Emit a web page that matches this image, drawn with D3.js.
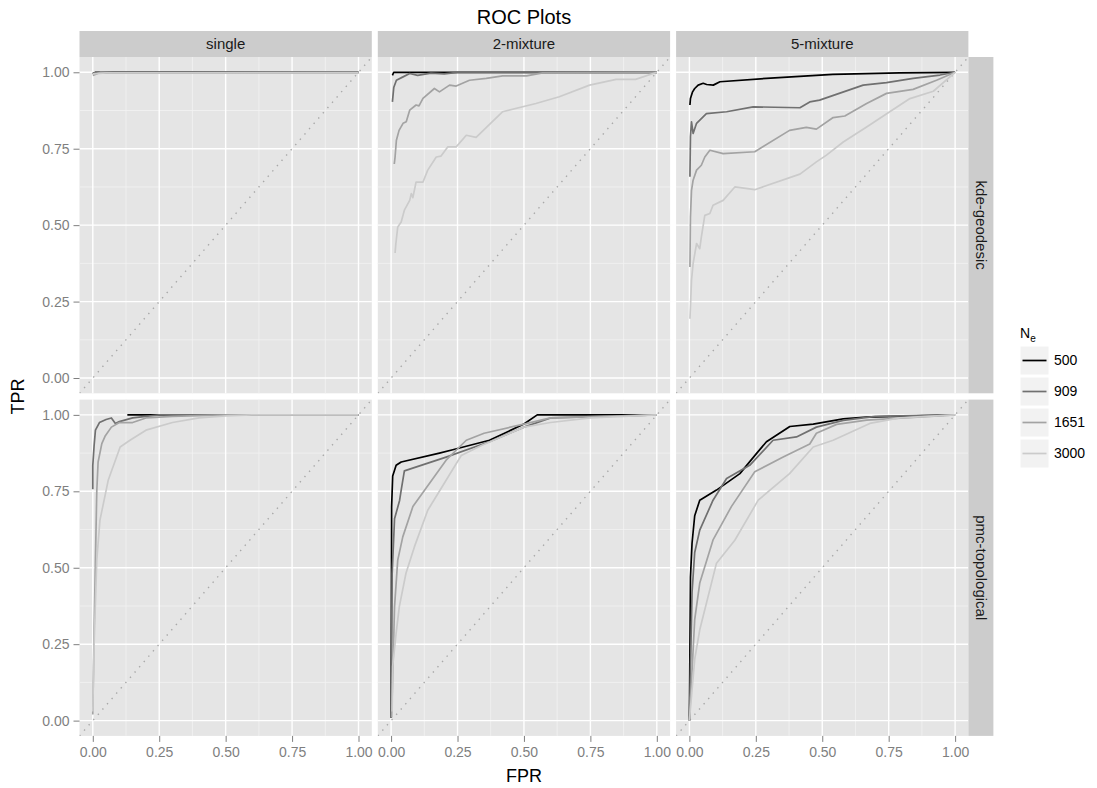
<!DOCTYPE html>
<html>
<head>
<meta charset="utf-8">
<script src="https://cdn.jsdelivr.net/npm/d3@7"></script>
<style>
  body { margin: 0; background: #ffffff; }
  svg { font-family: "Liberation Sans", Arial, sans-serif; }
</style>
</head>
<body>
<svg id="chart" width="1097" height="788"></svg>
<script>
// facets and series
const colLabels = ['single', '2-mixture', '5-mixture'];
const rowLabels = ['kde-geodesic', 'pmc-topological'];
const sizes = ['500', '909', '1651', '3000'];
const sizeColors = ['#000000', '#707070', '#a3a3a3', '#cbcbcb'];
const tickValues = [0, 0.25, 0.5, 0.75, 1];

// [FPR, TPR] points, one array per N_e
const kdeSingle = [
    [[0, 0.995], [0.01, 1], [1, 1]],
    [[0, 0.997], [0.02, 1], [1, 1]],
    [[0, 0.99], [0.03, 1], [0.1, 0.997], [1, 1]],
    [[0, 0.995], [0.05, 0.998], [0.5, 0.998], [1, 0.998]]
];
const kde2Mix = [
    [[0.005, 0.99], [0.01, 1], [1, 1]],
    [[0.005, 0.903], [0.01, 0.95], [0.02, 0.974], [0.045, 0.985], [0.07, 0.996], [0.1, 0.99], [0.15, 0.997], [0.2, 0.995], [0.25, 1], [1, 1]],
    [[0.012, 0.70], [0.015, 0.723], [0.02, 0.778], [0.03, 0.81], [0.045, 0.833], [0.057, 0.838], [0.07, 0.876],
     [0.094, 0.893], [0.105, 0.89], [0.12, 0.915], [0.163, 0.947], [0.182, 0.936], [0.22, 0.958], [0.245, 0.955],
     [0.295, 0.974], [0.358, 0.98], [0.42, 0.988], [0.51, 0.988], [0.57, 0.998], [1, 1]],
    [[0.015, 0.409], [0.018, 0.44], [0.025, 0.494], [0.038, 0.51], [0.05, 0.549], [0.07, 0.581], [0.076, 0.603],
     [0.082, 0.59], [0.094, 0.641], [0.12, 0.641], [0.138, 0.68], [0.17, 0.723], [0.188, 0.726], [0.213, 0.756],
     [0.245, 0.756], [0.283, 0.794], [0.32, 0.787], [0.42, 0.871], [0.545, 0.898], [0.633, 0.92], [0.747, 0.958],
     [0.847, 0.977], [0.92, 0.977], [1, 1]]
];
const kde5Mix = [
    [[0.002, 0.893], [0.004, 0.914], [0.012, 0.936], [0.02, 0.947], [0.033, 0.958], [0.052, 0.964], [0.065, 0.96],
     [0.09, 0.958], [0.115, 0.969], [0.29, 0.98], [0.54, 0.993], [0.79, 0.998], [1, 1]],
    [[0.002, 0.658], [0.004, 0.789], [0.008, 0.838], [0.014, 0.80], [0.027, 0.833], [0.064, 0.865], [0.14, 0.871],
     [0.24, 0.887], [0.416, 0.884], [0.453, 0.903], [0.49, 0.909], [0.654, 0.958], [0.742, 0.966], [0.842, 0.98],
     [0.943, 0.991], [1, 1]],
    [[0.002, 0.363], [0.004, 0.527], [0.008, 0.614], [0.014, 0.647], [0.027, 0.68], [0.045, 0.696], [0.058, 0.723],
     [0.077, 0.745], [0.127, 0.734], [0.246, 0.74], [0.377, 0.81], [0.44, 0.82], [0.478, 0.814], [0.541, 0.852],
     [0.585, 0.857], [0.667, 0.898], [0.742, 0.931], [0.842, 0.944], [0.93, 0.974], [1, 1]],
    [[0.002, 0.194], [0.004, 0.232], [0.008, 0.32], [0.014, 0.374], [0.027, 0.44], [0.039, 0.423], [0.045, 0.461],
     [0.058, 0.532], [0.077, 0.538], [0.089, 0.565], [0.127, 0.581], [0.171, 0.625], [0.246, 0.616], [0.416, 0.667],
     [0.478, 0.707], [0.516, 0.729], [0.579, 0.772], [0.667, 0.821], [0.754, 0.871], [0.83, 0.914], [0.918, 0.938], [1, 1]]
];
const pmcSingle = [
    [[0.13, 1], [1, 1]],
    [[0, 0.757], [0, 0.835], [0.005, 0.9], [0.01, 0.95], [0.025, 0.975], [0.05, 0.985], [0.07, 0.99],
     [0.085, 0.972], [0.1, 0.978], [0.15, 0.99], [0.25, 1], [1, 1]],
    [[0, 0.02], [0.005, 0.3], [0.01, 0.525], [0.015, 0.75], [0.02, 0.846], [0.034, 0.906], [0.046, 0.93],
     [0.07, 0.96], [0.1, 0.975], [0.15, 0.975], [0.2, 0.99], [0.3, 0.995], [0.5, 1], [1, 1]],
    [[0, 0.03], [0.005, 0.25], [0.015, 0.525], [0.027, 0.656], [0.058, 0.786], [0.103, 0.895], [0.14, 0.917],
     [0.2, 0.95], [0.3, 0.975], [0.4, 0.99], [0.5, 0.997], [0.6, 1], [1, 1]]
];
const pmc2Mix = [
    [[0, 0.009], [0.002, 0.70], [0.006, 0.80], [0.019, 0.835], [0.038, 0.846], [0.182, 0.875], [0.232, 0.886],
     [0.37, 0.917], [0.5, 0.97], [0.55, 1], [1, 1]],
    [[0, 0.01], [0.004, 0.48], [0.013, 0.66], [0.032, 0.72], [0.038, 0.754], [0.05, 0.817], [0.207, 0.862],
     [0.37, 0.912], [0.5, 0.96], [0.6, 0.99], [1, 1]],
    [[0.002, 0.01], [0.013, 0.373], [0.025, 0.525], [0.044, 0.601], [0.082, 0.70], [0.207, 0.852], [0.283, 0.917],
     [0.35, 0.94], [0.5, 0.97], [0.6, 0.99], [1, 1]],
    [[0.004, 0.03], [0.006, 0.177], [0.019, 0.286], [0.031, 0.373], [0.056, 0.482], [0.088, 0.569], [0.138, 0.688],
     [0.264, 0.867], [0.34, 0.90], [0.5, 0.96], [0.6, 0.975], [0.75, 0.99], [1, 1]]
];
const pmc5Mix = [
    [[0, 0], [0.004, 0.47], [0.01, 0.58], [0.02, 0.67], [0.039, 0.721], [0.102, 0.754], [0.19, 0.808],
     [0.253, 0.874], [0.29, 0.912], [0.378, 0.962], [0.466, 0.97], [0.579, 0.987], [0.667, 0.993], [1, 1]],
    [[0, 0], [0.01, 0.42], [0.02, 0.55], [0.039, 0.623], [0.089, 0.721], [0.14, 0.792], [0.227, 0.835],
     [0.315, 0.917], [0.403, 0.928], [0.478, 0.96], [0.579, 0.982], [0.7, 0.995], [1, 1]],
    [[0, 0], [0.02, 0.33], [0.039, 0.45], [0.089, 0.591], [0.158, 0.70], [0.246, 0.814], [0.353, 0.862],
     [0.453, 0.905], [0.478, 0.94], [0.554, 0.969], [0.667, 0.983], [1, 1]],
    [[0, 0], [0.01, 0.1], [0.02, 0.2], [0.039, 0.297], [0.102, 0.515], [0.171, 0.59], [0.259, 0.721],
     [0.377, 0.808], [0.466, 0.895], [0.541, 0.917], [0.679, 0.972], [0.79, 0.99], [1, 1]]
];
const panelData = [[kdeSingle, kde2Mix, kde5Mix], [pmcSingle, pmc2Mix, pmc5Mix]];

const svg = d3.select('#chart');
const panelLeft = 79.5, panelTop = 57;
const panelW = 292.3, panelH = 336.3, gapX = 6, gapY = 6.3;
const stripH = 26, stripW = 25;
const plotRight = panelLeft + 3 * panelW + 2 * gapX;
const plotBottom = panelTop + 2 * panelH + gapY;

const line = d3.line();
const fmt = d3.format('.2f');

svg.append('text')
    .attr('x', (panelLeft + plotRight) / 2)
    .attr('y', 24)
    .attr('text-anchor', 'middle')
    .style('font-size', '20px')
    .text('ROC Plots');

rowLabels.forEach((rowName, r) => {
    colLabels.forEach((colName, c) => {
        const x0 = panelLeft + c * (panelW + gapX);
        const y0 = panelTop + r * (panelH + gapY);
        const x = d3.scaleLinear().domain([-0.05, 1.05]).range([x0, x0 + panelW]);
        const y = d3.scaleLinear().domain([-0.05, 1.05]).range([y0 + panelH, y0]);
        const g = svg.append('g');
        const clipId = `clip-${r}-${c}`;

        g.append('clipPath').attr('id', clipId)
            .append('rect')
            .attr('x', x0).attr('y', y0)
            .attr('width', panelW).attr('height', panelH);

        g.append('rect')
            .attr('x', x0).attr('y', y0)
            .attr('width', panelW).attr('height', panelH)
            .attr('fill', '#e5e5e5');

        const minor = [0.125, 0.375, 0.625, 0.875];
        g.selectAll('.minor-v').data(minor).enter().append('line')
            .attr('x1', d => x(d)).attr('x2', d => x(d))
            .attr('y1', y0).attr('y2', y0 + panelH)
            .attr('stroke', '#f2f2f2').attr('stroke-width', 0.8);
        g.selectAll('.minor-h').data(minor).enter().append('line')
            .attr('y1', d => y(d)).attr('y2', d => y(d))
            .attr('x1', x0).attr('x2', x0 + panelW)
            .attr('stroke', '#f2f2f2').attr('stroke-width', 0.8);
        g.selectAll('.major-v').data(tickValues).enter().append('line')
            .attr('x1', d => x(d)).attr('x2', d => x(d))
            .attr('y1', y0).attr('y2', y0 + panelH)
            .attr('stroke', '#ffffff').attr('stroke-width', 1.4);
        g.selectAll('.major-h').data(tickValues).enter().append('line')
            .attr('y1', d => y(d)).attr('y2', d => y(d))
            .attr('x1', x0).attr('x2', x0 + panelW)
            .attr('stroke', '#ffffff').attr('stroke-width', 1.4);

        // chance diagonal
        g.append('line')
            .attr('clip-path', `url(#${clipId})`)
            .attr('x1', x(-0.05)).attr('y1', y(-0.05))
            .attr('x2', x(1.05)).attr('y2', y(1.05))
            .attr('stroke', '#a8a8a8')
            .attr('stroke-width', 1.4)
            .attr('stroke-dasharray', '1.4,5.6');

        line.x(d => x(d[0])).y(d => y(d[1]));
        g.selectAll('.roc')
            .data(panelData[r][c])
            .enter()
            .append('path')
            .attr('clip-path', `url(#${clipId})`)
            .attr('d', d => line(d))
            .attr('fill', 'none')
            .attr('stroke', (d, i) => sizeColors[i])
            .attr('stroke-width', 1.7)
            .attr('stroke-linejoin', 'round');

        if (c === 0) {
            const ax = g.append('g')
                .attr('transform', `translate(${x0},0)`)
                .call(d3.axisLeft(y).tickValues(tickValues).tickFormat(fmt).tickSizeOuter(0).tickSize(6).tickPadding(4));
            ax.select('.domain').remove();
            ax.selectAll('line').attr('stroke', '#7f7f7f');
            ax.selectAll('text').attr('fill', '#7f7f7f').style('font-size', '14px')
                .style('font-family', '"Liberation Sans", Arial, sans-serif');
        }
        if (r === 1) {
            const ax = g.append('g')
                .attr('transform', `translate(0,${y0 + panelH})`)
                .call(d3.axisBottom(x).tickValues(tickValues).tickFormat(fmt).tickSizeOuter(0).tickSize(6).tickPadding(5));
            ax.select('.domain').remove();
            ax.selectAll('line').attr('stroke', '#7f7f7f');
            ax.selectAll('text').attr('fill', '#7f7f7f').style('font-size', '14px')
                .style('font-family', '"Liberation Sans", Arial, sans-serif');
        }
        if (r === 0) {
            svg.append('rect')
                .attr('x', x0).attr('y', panelTop - stripH)
                .attr('width', panelW).attr('height', stripH)
                .attr('fill', '#cccccc');
            svg.append('text')
                .attr('x', x0 + panelW / 2)
                .attr('y', panelTop - stripH / 2)
                .attr('dy', '0.35em')
                .attr('text-anchor', 'middle')
                .style('font-size', '15px')
                .attr('fill', '#1a1a1a')
                .text(colName);
        }
        if (c === 2) {
            svg.append('rect')
                .attr('x', plotRight).attr('y', y0)
                .attr('width', stripW).attr('height', panelH)
                .attr('fill', '#cccccc');
            svg.append('text')
                .attr('transform', `translate(${plotRight + stripW / 2},${y0 + panelH / 2}) rotate(90)`)
                .attr('dy', '0.35em')
                .attr('text-anchor', 'middle')
                .style('font-size', '15px')
                .attr('fill', '#1a1a1a')
                .text(rowName);
        }
    });
});

svg.append('text')
    .attr('x', (panelLeft + plotRight) / 2)
    .attr('y', 782)
    .attr('text-anchor', 'middle')
    .style('font-size', '18px')
    .text('FPR');

svg.append('text')
    .attr('transform', `translate(24,${(panelTop + plotBottom) / 2}) rotate(-90)`)
    .attr('text-anchor', 'middle')
    .style('font-size', '18px')
    .text('TPR');

// legend
const legend = svg.append('g').attr('transform', 'translate(1020,346)');
const title = legend.append('text').attr('x', 0).attr('y', -8).style('font-size', '14px');
title.append('tspan').text('N');
title.append('tspan').attr('dy', 4).style('font-size', '10px').text('e');

const keys = legend.selectAll('.key')
    .data(sizes)
    .enter()
    .append('g')
    .attr('transform', (d, i) => `translate(0,${i * 31})`);
keys.append('rect')
    .attr('width', 29).attr('height', 29)
    .attr('fill', '#f2f2f2')
    .attr('stroke', '#ffffff').attr('stroke-width', 1);
keys.append('line')
    .attr('x1', 2.5).attr('x2', 26.5)
    .attr('y1', 14.5).attr('y2', 14.5)
    .attr('stroke', (d, i) => sizeColors[i])
    .attr('stroke-width', 1.7);
keys.append('text')
    .attr('x', 34).attr('y', 14.5)
    .attr('dy', '0.35em')
    .style('font-size', '14px')
    .text(d => d);
</script>
</body>
</html>
